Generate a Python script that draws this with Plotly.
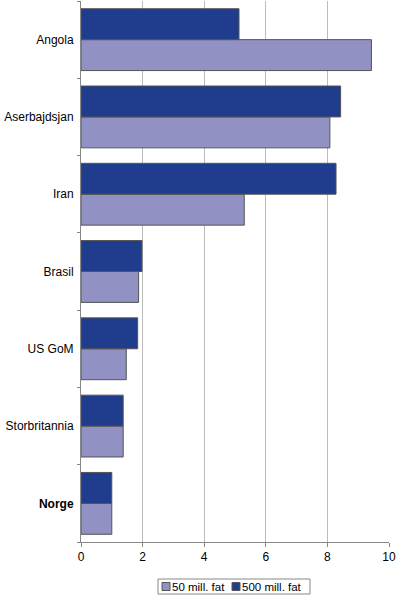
import plotly.graph_objects as go

categories = ["Norge", "Storbritannia", "US GoM", "Brasil", "Iran", "Aserbajdsjan", "Angola"]
tick_labels = ["<b>Norge</b>", "Storbritannia", "US GoM", "Brasil", "Iran", "Aserbajdsjan", "Angola"]
series_50 = [1.0, 1.37, 1.47, 1.87, 5.30, 8.08, 9.43]
series_500 = [1.0, 1.37, 1.84, 1.98, 8.28, 8.43, 5.13]
series_names = ["50 mill. fat", "500 mill. fat"]
series_colors = ["#9191C4", "#1F3D8C"]

W, H = 397, 595
L, R, T, B = 81, 8, 1, 53
PW, PH = W - L - R, H - T - B

def px_x(px):
    return (px - L) / PW

def px_y(py):
    return (H - B - py) / PH

fig = go.Figure()
for name, vals, col in zip(series_names, [series_50, series_500], series_colors):
    fig.add_trace(go.Bar(y=categories, x=vals, orientation="h", name=name,
                         marker=dict(color=col, line=dict(color="#555555", width=1))))

# manual compact legend
shapes = [dict(type="rect", xref="paper", yref="paper",
               x0=px_x(158), x1=px_x(310), y0=px_y(594), y1=px_y(579),
               line=dict(color="#888888", width=1), fillcolor="white")]
annotations = []
sw_x = [162, 232]
for sx, name, col in zip(sw_x, series_names, series_colors):
    shapes.append(dict(type="rect", xref="paper", yref="paper",
                       x0=px_x(sx), x1=px_x(sx + 8), y0=px_y(590.5), y1=px_y(582.5),
                       line=dict(color="#555555", width=1), fillcolor=col))
    annotations.append(dict(xref="paper", yref="paper", x=px_x(sx + 8.5), y=px_y(586.5),
                            text=name, showarrow=False, xanchor="left", yanchor="middle",
                            borderpad=0, font=dict(size=11.5, color="black")))

fig.update_layout(
    width=W, height=H,
    margin=dict(l=L, r=R, t=T, b=B, autoexpand=False),
    barmode="group", bargap=0.2, bargroupgap=0,
    plot_bgcolor="white", paper_bgcolor="white",
    font=dict(family="Liberation Sans, Arial, sans-serif", size=12, color="black"),
    showlegend=False,
    shapes=shapes, annotations=annotations,
)
fig.update_xaxes(range=[0, 10], dtick=2, showgrid=True, gridcolor="#BBBBBB", gridwidth=1,
                 showline=True, linecolor="#888888", ticks="outside", ticklen=4, tickcolor="#888888",
                 zeroline=False, mirror=False, automargin=False)
fig.update_yaxes(categoryorder="array", categoryarray=categories,
                 tickvals=categories, ticktext=tick_labels,
                 showline=True, linecolor="#888888", ticks="outside", ticklen=3, tickcolor="#888888",
                 tickson="boundaries", showgrid=False, ticklabelstandoff=4, automargin=False)

fig.write_html("out.html", config={"displayModeBar": False})
with open("out.html", encoding="utf-8") as f:
    html = f.read()
html = html.replace("<head>", "<head><style>html,body{margin:0;padding:0;overflow:hidden;}</style>", 1)
with open("out.html", "w", encoding="utf-8") as f:
    f.write(html)
